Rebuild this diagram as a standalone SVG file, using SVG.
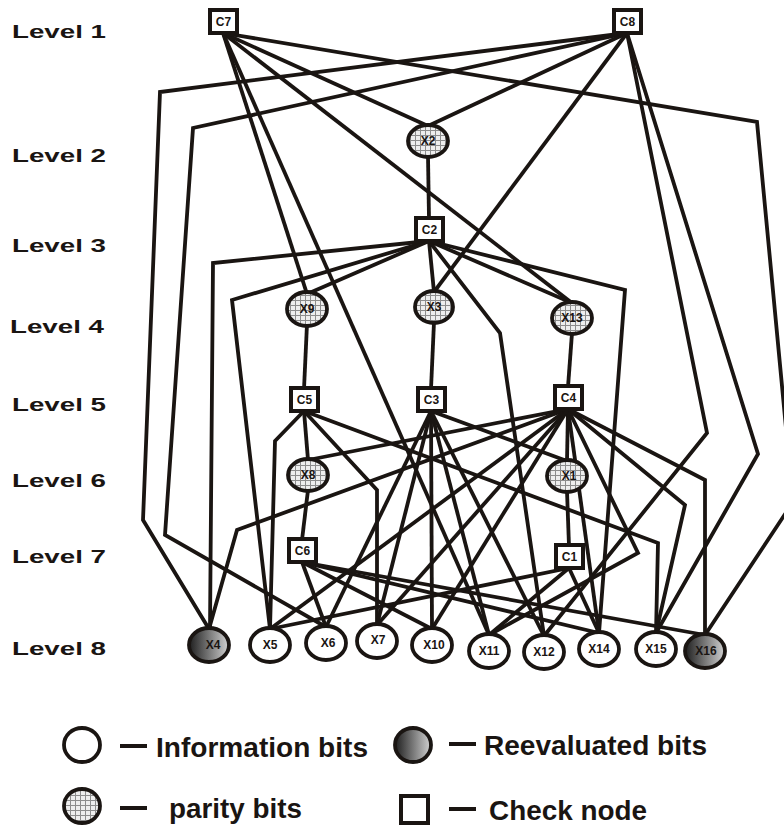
<svg xmlns="http://www.w3.org/2000/svg" width="784" height="827" viewBox="0 0 784 827">
<defs>
<pattern id="grid" width="5" height="5" patternUnits="userSpaceOnUse">
<rect width="5" height="5" fill="#eeeeee"/>
<path d="M0,0.5 H5 M0.5,0 V5" stroke="#8c8c8c" stroke-width="1"/>
</pattern>
<linearGradient id="reeval" x1="0" y1="0" x2="1" y2="0">
<stop offset="0" stop-color="#1e1e1e"/>
<stop offset="1" stop-color="#d2d2d2"/>
</linearGradient>
<style>
.e{fill:none;stroke:#1a1512;stroke-width:3.8;stroke-linejoin:miter;stroke-miterlimit:10}
.chk{fill:#fff;stroke:#1a1512;stroke-width:4}
.info{fill:#fff;stroke:#1a1512;stroke-width:3.8}
.par{fill:url(#grid);stroke:#1a1512;stroke-width:3.8}
.rev{fill:url(#reeval);stroke:#1a1512;stroke-width:3.8}
.lbl{font-family:"Liberation Sans",Arial,sans-serif;font-weight:bold;font-size:12px;fill:#1a1512;text-anchor:middle}
.lvl{font-family:"Liberation Sans",Arial,sans-serif;font-weight:bold;font-size:19px;fill:#1a1512}
.leg{font-family:"Liberation Sans",Arial,sans-serif;font-weight:bold;font-size:27px;fill:#1a1512}
.dash{stroke:#1a1512;stroke-width:4}
</style>
</defs>
<rect width="784" height="827" fill="#fff"/>

<g id="level-labels">
<text class="lvl" x="12" y="38" textLength="94" lengthAdjust="spacingAndGlyphs">Level 1</text>
<text class="lvl" x="12" y="162" textLength="94" lengthAdjust="spacingAndGlyphs">Level 2</text>
<text class="lvl" x="12" y="252" textLength="94" lengthAdjust="spacingAndGlyphs">Level 3</text>
<text class="lvl" x="10" y="333" textLength="94" lengthAdjust="spacingAndGlyphs">Level 4</text>
<text class="lvl" x="12" y="411" textLength="94" lengthAdjust="spacingAndGlyphs">Level 5</text>
<text class="lvl" x="12" y="487" textLength="94" lengthAdjust="spacingAndGlyphs">Level 6</text>
<text class="lvl" x="12" y="563" textLength="94" lengthAdjust="spacingAndGlyphs">Level 7</text>
<text class="lvl" x="12" y="655" textLength="94" lengthAdjust="spacingAndGlyphs">Level 8</text>
</g>

<g id="connectors">
<!-- C7 -->
<path class="e" d="M223,33 L428,126"/>
<path class="e" d="M223,33 L572,303"/>
<path class="e" d="M223,33 L307,294"/>
<path class="e" d="M223,33 L489,635"/>
<path class="e" d="M223,33 L757,122 L793,502 L705,635"/>
<!-- C8 -->
<path class="e" d="M627,33 L160,92 L143,520 L209,629"/>
<path class="e" d="M627,33 L193,128 L165,535 L326,627"/>
<path class="e" d="M627,33 L428,126"/>
<path class="e" d="M627,33 L434,292"/>
<path class="e" d="M627,33 L707,433 L544,636"/>
<path class="e" d="M627,33 L758,454 L656,633"/>
<!-- C2 -->
<path class="e" d="M429,219 L428,156"/>
<path class="e" d="M429,241 L213,263 L210,629"/>
<path class="e" d="M429,241 L232,300 L270,629"/>
<path class="e" d="M429,241 L307,294"/>
<path class="e" d="M429,241 L434,292"/>
<path class="e" d="M429,241 L572,303"/>
<path class="e" d="M429,241 L500,333 L544,636"/>
<path class="e" d="M429,241 L625,290 L599,633"/>
<!-- C5 -->
<path class="e" d="M304,389 L307,324"/>
<path class="e" d="M304,411 L308,460"/>
<path class="e" d="M304,411 L275,441 L270,629"/>
<path class="e" d="M304,411 L377,490 L377,625"/>
<path class="e" d="M304,411 L658,543 L656,633"/>
<!-- C3 -->
<path class="e" d="M431,389 L434,322"/>
<path class="e" d="M431,411 L567,461"/>
<path class="e" d="M431,411 L432,629"/>
<path class="e" d="M431,411 L326,627"/>
<path class="e" d="M431,411 L377,625"/>
<path class="e" d="M431,411 L489,635"/>
<path class="e" d="M431,411 L544,636"/>
<!-- C4 -->
<path class="e" d="M568,387 L572,333"/>
<path class="e" d="M568,409 L567,461"/>
<path class="e" d="M568,409 L308,460"/>
<path class="e" d="M568,409 L237,530 L209,629"/>
<path class="e" d="M568,409 L638,553 L489,635"/>
<path class="e" d="M568,409 L685,505 L656,633"/>
<path class="e" d="M568,409 L705,480 L705,635"/>
<path class="e" d="M568,409 L599,633"/>
<path class="e" d="M568,409 L270,629"/>
<path class="e" d="M568,409 L377,625"/>
<path class="e" d="M568,409 L432,629"/>
<!-- C6 -->
<path class="e" d="M302,540 L308,490"/>
<path class="e" d="M302,562 L326,627"/>
<path class="e" d="M302,562 L432,629"/>
<path class="e" d="M302,562 L599,633"/>
<path class="e" d="M302,562 L705,635"/>
<!-- C1 -->
<path class="e" d="M569,546 L567,491"/>
<path class="e" d="M569,568 L599,633"/>
<path class="e" d="M569,568 L489,635"/>
<path class="e" d="M569,568 L270,629"/>
</g>

<g id="C7"><rect class="chk" x="210" y="10" width="27" height="23"/><text class="lbl" x="223.5" y="26" font-size="11">C7</text></g>
<g id="C8"><rect class="chk" x="614" y="10" width="27" height="23"/><text class="lbl" x="627.5" y="26" font-size="11" font-weight="normal">C8</text></g>
<g id="X2"><ellipse class="par" cx="428" cy="141" rx="20" ry="16"/><text class="lbl" x="428" y="145">X2</text></g>
<g id="C2"><rect class="chk" x="416" y="218" width="27" height="23"/><text class="lbl" x="429.5" y="234" font-size="11">C2</text></g>
<g id="X9"><ellipse class="par" cx="307" cy="309" rx="20" ry="17"/><text class="lbl" x="307" y="313">X9</text></g>
<g id="X3"><ellipse class="par" cx="434" cy="307" rx="19" ry="16"/><text class="lbl" x="434" y="311">X3</text></g>
<g id="X13"><ellipse class="par" cx="572" cy="318" rx="20" ry="16"/><text class="lbl" x="572" y="322">X13</text></g>
<g id="C5"><rect class="chk" x="291" y="388" width="27" height="23"/><text class="lbl" x="304.5" y="404" font-size="11">C5</text></g>
<g id="C3"><rect class="chk" x="418" y="388" width="27" height="23"/><text class="lbl" x="431.5" y="404" font-size="11">C3</text></g>
<g id="C4"><rect class="chk" x="555" y="386" width="27" height="23"/><text class="lbl" x="568.5" y="402" font-size="11">C4</text></g>
<g id="X8"><ellipse class="par" cx="308" cy="475" rx="20" ry="16"/><text class="lbl" x="308" y="479">X8</text></g>
<g id="X1"><ellipse class="par" cx="567" cy="476" rx="20" ry="16"/><text class="lbl" x="569" y="480">X1</text></g>
<g id="C6"><rect class="chk" x="289" y="539" width="27" height="23"/><text class="lbl" x="302.5" y="555" font-size="11">C6</text></g>
<g id="C1"><rect class="chk" x="556" y="545" width="27" height="23"/><text class="lbl" x="569.5" y="561" font-size="11">C1</text></g>

<g id="X4"><ellipse class="rev" cx="209" cy="645" rx="20" ry="17"/><text class="lbl" x="213" y="649" font-weight="normal" fill="#222">X4</text></g>
<g id="X5"><ellipse class="info" cx="270" cy="645" rx="20" ry="17"/><text class="lbl" x="270" y="649">X5</text></g>
<g id="X6"><ellipse class="info" cx="326" cy="643" rx="20" ry="17"/><text class="lbl" x="328" y="647">X6</text></g>
<g id="X7"><ellipse class="info" cx="377" cy="641" rx="20" ry="17"/><text class="lbl" x="378" y="644">X7</text></g>
<g id="X10"><ellipse class="info" cx="432" cy="645" rx="20" ry="17"/><text class="lbl" x="434" y="649">X10</text></g>
<g id="X11"><ellipse class="info" cx="489" cy="651" rx="20" ry="17"/><text class="lbl" x="489" y="655">X11</text></g>
<g id="X12"><ellipse class="info" cx="544" cy="652" rx="20" ry="17"/><text class="lbl" x="544" y="656">X12</text></g>
<g id="X14"><ellipse class="info" cx="599" cy="649" rx="20" ry="17"/><text class="lbl" x="599" y="653">X14</text></g>
<g id="X15"><ellipse class="info" cx="656" cy="649" rx="20" ry="17"/><text class="lbl" x="656" y="653">X15</text></g>
<g id="X16"><ellipse class="rev" cx="705" cy="651" rx="20" ry="17"/><text class="lbl" x="706" y="655" font-weight="normal" fill="#222">X16</text></g>

<g id="legend">
<ellipse class="info" cx="82" cy="745" rx="18" ry="17"/>
<line class="dash" x1="120" y1="746" x2="147" y2="746"/>
<text class="leg" x="156" y="757" textLength="212" lengthAdjust="spacingAndGlyphs">Information bits</text>
<ellipse class="rev" cx="413" cy="745" rx="18" ry="17"/>
<line class="dash" x1="449" y1="744" x2="476" y2="744"/>
<text class="leg" x="484" y="755" textLength="223" lengthAdjust="spacingAndGlyphs">Reevaluated bits</text>
<ellipse class="par" cx="82" cy="806" rx="18" ry="17"/>
<line class="dash" x1="120" y1="808" x2="147" y2="808"/>
<text class="leg" x="169" y="818" textLength="133" lengthAdjust="spacingAndGlyphs">parity bits</text>
<rect class="chk" x="401" y="796" width="27" height="27"/>
<line class="dash" x1="449" y1="809" x2="476" y2="809"/>
<text class="leg" x="489" y="820" textLength="158" lengthAdjust="spacingAndGlyphs">Check node</text>
</g>
</svg>
